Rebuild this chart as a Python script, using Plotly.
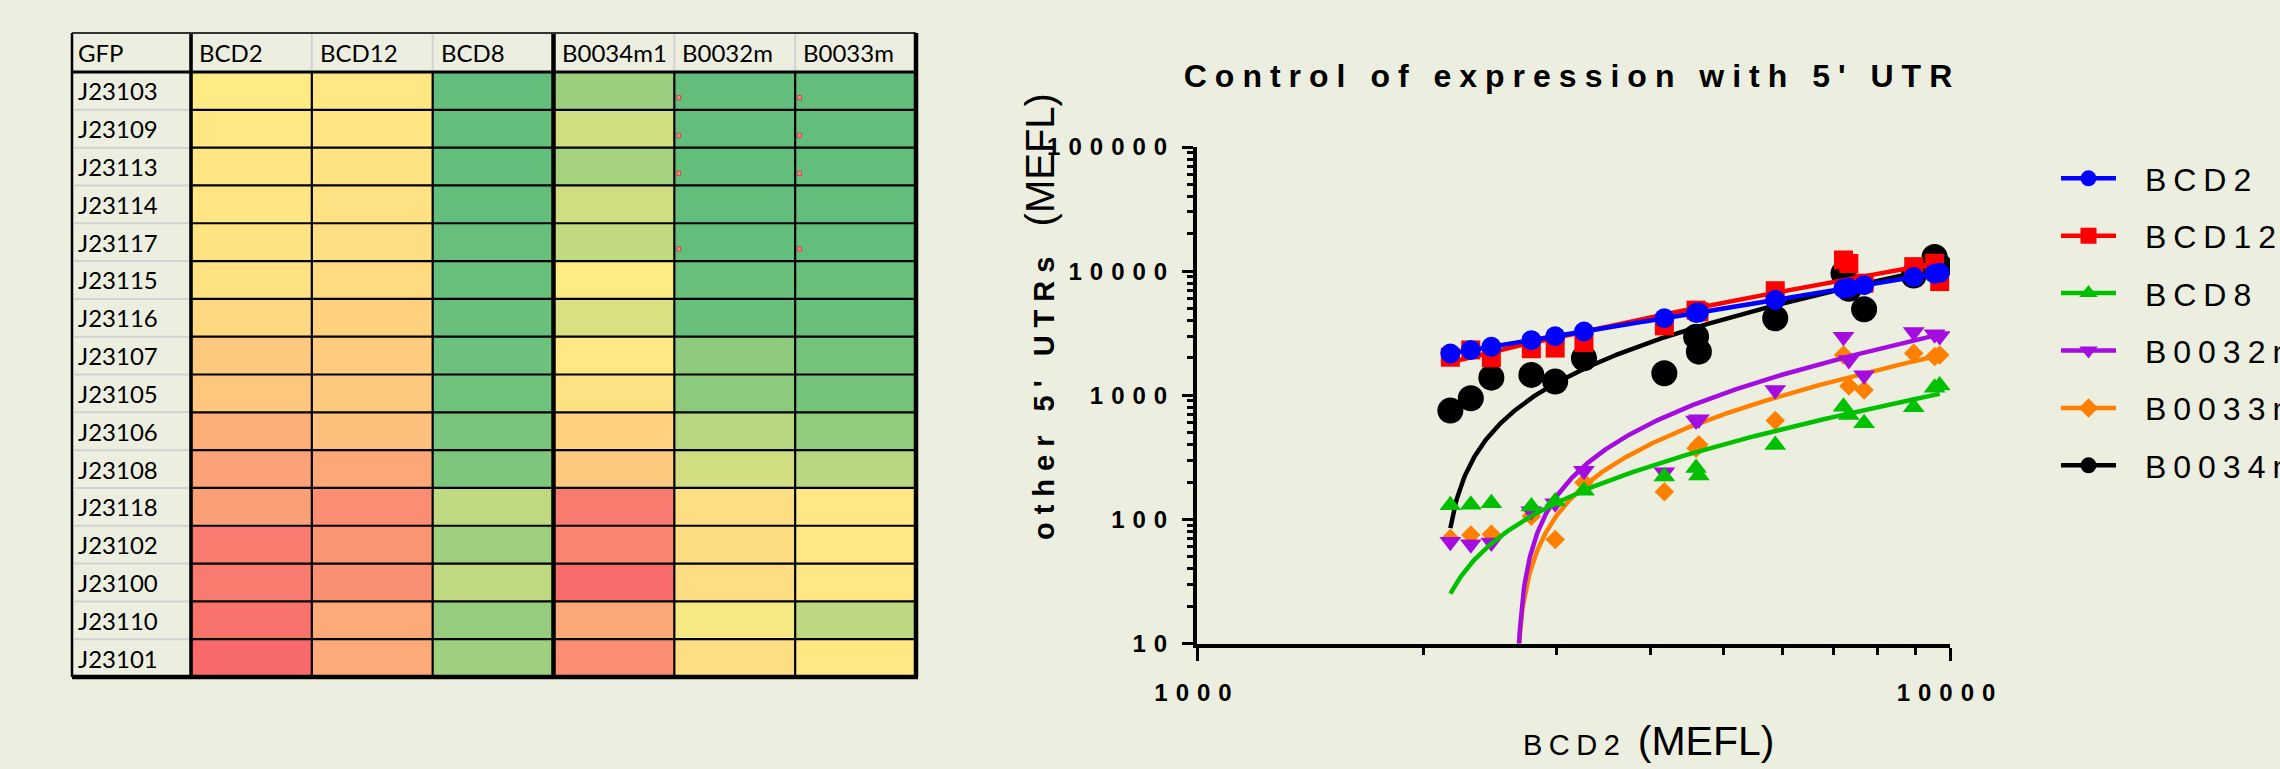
import numpy as np
import plotly.graph_objects as go

W, H = 2280, 769
BG = '#ECEFDF'

# ---------------- table (heat-map) data ----------------
corner_label = 'GFP'
promoters = ['J23103', 'J23109', 'J23113', 'J23114', 'J23117', 'J23115', 'J23116', 'J23107',
             'J23105', 'J23106', 'J23108', 'J23118', 'J23102', 'J23100', 'J23110', 'J23101']
utr_columns = ['BCD2', 'BCD12', 'BCD8', 'B0034m1', 'B0032m', 'B0033m']
# position of each cell on the red(0) - yellow(0.5) - green(1) colour scale
scale_bcd2 = [0.50, 0.49, 0.48, 0.48, 0.47, 0.47, 0.43, 0.37, 0.36, 0.265, 0.22, 0.21, 0.07, 0.07, 0.04, 0.0]
scale_bcd12 = [0.49, 0.48, 0.47, 0.46, 0.45, 0.44, 0.40, 0.38, 0.37, 0.33, 0.24, 0.14, 0.17, 0.15, 0.25, 0.25]
scale_bcd8 = [1.0, 1.0, 1.0, 1.0, 0.99, 0.99, 0.98, 0.97, 0.96, 0.93, 0.91, 0.705, 0.81, 0.705, 0.84, 0.81]
scale_b0034m1 = [0.82, 0.65, 0.785, 0.65, 0.70, 0.50, 0.625, 0.49, 0.46, 0.40, 0.37, 0.07, 0.11, 0.01, 0.245, 0.14]
scale_b0032m = [1.0, 1.0, 1.0, 1.0, 1.0, 0.98, 0.98, 0.86, 0.87, 0.73, 0.65, 0.45, 0.445, 0.45, 0.53, 0.45]
scale_b0033m = [1.0, 1.0, 1.0, 1.0, 1.0, 0.98, 0.98, 0.94, 0.94, 0.85, 0.73, 0.49, 0.49, 0.49, 0.71, 0.49]
flagged_rows = ['J23103', 'J23109', 'J23113', 'J23117']
flagged_cols = ['B0032m', 'B0033m']

# ---------------- scatter data (MEFL) ----------------
bcd2_mefl = [2170, 2310, 2460, 2780, 2990, 3265, 4175, 4600, 4640, 5860, 7220, 7340, 7690, 8950, 9540, 9690]
bcd12_mefl = [2024, 2317, 2000, 2370, 2400, 2660, 3620, 4850, 4700, 6950, 12300, 11500, 8000, 10870, 11590, 8240]
bcd8_mefl = [130, 131, 135, 127, 139, 170, 222, 259, 226, 398, 809, 694, 595, 800, 1150, 1200]
b0032m_mefl = [66, 63, 65, 116, 135, 247, 240, 625, 640, 1104, 2966, 1925, 1449, 3236, 3100, 3000]
b0033m_mefl = [70, 75, 76, 106, 69, 198, 167, 374, 400, 625, 2113, 1188, 1104, 2180, 2048, 2113]
b0034m_mefl = [752, 946, 1386, 1459, 1288, 1987, 1503, 2966, 2245, 4170, 9600, 7200, 4930, 9200, 13000, 10900]

x_tick_values = [1000, 10000]
y_tick_values = [10, 100, 1000, 10000, 100000]

title_text = "Control of expression with 5' UTR"
x_title_main, x_title_unit = 'BCD2', '(MEFL)'
y_title_main, y_title_unit = "other 5' UTRs", '(MEFL)'

# ---------------- helpers ----------------
def px(x):
    return x / W


def py(y):
    return 1 - y / H


def spaced(text, ls, size=None):
    st = f'letter-spacing:{ls}px'
    if size:
        st = f'font-size:{size}px;' + st
    return f'<span style="{st}">{text}</span>'


FONT = 'Liberation Sans'
TFONT = 'Lato'

fig = go.Figure()

# ---------------- heat-map table ----------------
cols = [scale_bcd2, scale_bcd12, scale_bcd8, scale_b0034m1, scale_b0032m, scale_b0033m]
z = [[c[i] for c in cols] for i in range(len(promoters))]
fig.add_trace(go.Heatmap(
    z=z, x=utr_columns, y=promoters,
    colorscale=[[0, '#F8696B'], [0.5, '#FFEB84'], [1, '#63BE7B']],
    zmin=0, zmax=1, showscale=False, hoverinfo='skip',
    xaxis='x2', yaxis='y2'))

# table geometry (pixels)
T_L, T_LAB, T_R = 72, 191, 916
T_T, T_HB, T_B = 33, 72, 677

shapes = []
for r in range(len(promoters) - 1):
    shapes.append(dict(type='line', xref='x2', yref='y2', x0=-0.5, x1=len(utr_columns) - 0.5,
                       y0=r + 0.5, y1=r + 0.5, line=dict(color='black', width=2.2)))
    shapes.append(dict(type='line', xref='paper', yref='y2', x0=px(T_L + 2), x1=px(T_LAB - 2),
                       y0=r + 0.5, y1=r + 0.5, line=dict(color='#D2D2D2', width=2)))
for c in range(1, len(utr_columns)):
    thick = (c == 3)
    shapes.append(dict(type='line', xref='x2', yref='paper', x0=c - 0.5, x1=c - 0.5,
                       y0=py(T_HB), y1=py(T_B),
                       line=dict(color='black', width=4.5 if thick else 2.2)))
    shapes.append(dict(type='line', xref='x2', yref='paper', x0=c - 0.5, x1=c - 0.5,
                       y0=py(T_T), y1=py(T_HB),
                       line=dict(color='black' if thick else '#D2D2D2', width=4.5 if thick else 2)))
shapes.append(dict(type='line', xref='paper', yref='paper', x0=px(T_LAB), x1=px(T_LAB),
                   y0=py(T_T), y1=py(T_B), line=dict(color='black', width=3.6)))
shapes.append(dict(type='line', xref='paper', yref='paper', x0=px(T_L), x1=px(T_R),
                   y0=py(T_HB), y1=py(T_HB), line=dict(color='black', width=3)))
shapes.append(dict(type='line', xref='paper', yref='paper', x0=px(T_L), x1=px(T_R),
                   y0=py(T_T), y1=py(T_T), line=dict(color='#333333', width=2)))
shapes.append(dict(type='line', xref='paper', yref='paper', x0=px(T_L), x1=px(T_R + 2),
                   y0=py(T_B), y1=py(T_B), line=dict(color='black', width=4.5)))
shapes.append(dict(type='line', xref='paper', yref='paper', x0=px(T_L), x1=px(T_L),
                   y0=py(T_T), y1=py(T_B), line=dict(color='black', width=2.5)))
shapes.append(dict(type='line', xref='paper', yref='paper', x0=px(T_R), x1=px(T_R),
                   y0=py(T_T), y1=py(T_B), line=dict(color='black', width=4.5)))
for cname in flagged_cols:
    ci = utr_columns.index(cname)
    for rname in flagged_rows:
        ri = promoters.index(rname)
        shapes.append(dict(type='rect', xref='x2', yref='y2',
                           x0=ci - 0.5 + 0.022, x1=ci - 0.5 + 0.052,
                           y0=ri + 0.12, y1=ri + 0.24,
                           fillcolor='#F28A8A', line=dict(color='#D04848', width=1)))

annotations = []
annotations.append(dict(text=corner_label, xref='paper', yref='paper', x=px(T_L + 4),
                        y=py((T_T + T_HB) / 2), xanchor='left', yanchor='middle', showarrow=False,
                        font=dict(family=TFONT, size=24, color='black')))
for ci, cname in enumerate(utr_columns):
    annotations.append(dict(text=cname, xref='x2', yref='paper', x=ci - 0.5, xshift=6,
                            y=py((T_T + T_HB) / 2), xanchor='left', yanchor='middle', showarrow=False,
                            font=dict(family=TFONT, size=24, color='black')))
for rname in promoters:
    annotations.append(dict(text=rname, xref='paper', yref='y2', x=px(T_L + 4), y=rname,
                            xanchor='left', yanchor='middle', showarrow=False,
                            font=dict(family=TFONT, size=24, color='black')))

# ---------------- scatter with linear fits ----------------
series = [  # drawn bottom -> top
    dict(name='B0034m', y=b0034m_mefl, color='#000000', symbol='circle', size=26, rank=6),
    dict(name='B0033m', y=b0033m_mefl, color='#FF8000', symbol='diamond', size=15, rank=5),
    dict(name='B0032m', y=b0032m_mefl, color='#A40CE0', symbol='triangle-down', size=19, rank=4),
    dict(name='BCD8', y=bcd8_mefl, color='#00C000', symbol='triangle-up', size=19, rank=3),
    dict(name='BCD12', y=bcd12_mefl, color='#FF0000', symbol='square', size=19, rank=2),
    dict(name='BCD2', y=bcd2_mefl, color='#0000FF', symbol='circle', size=20, rank=1),
]

xs = np.array(bcd2_mefl, dtype=float)
xfit = np.geomspace(xs.min(), xs.max(), 600)
legend_pad = '<span style="letter-spacing:15px"> </span>'
for s in series:
    ys = np.array(s['y'], dtype=float)
    slope, intercept = np.polyfit(xs, ys, 1)
    yfit = slope * xfit + intercept
    yfit = [v if v > 0 else None for v in yfit]
    fig.add_trace(go.Scatter(x=xfit, y=yfit, mode='lines', showlegend=False, hoverinfo='skip',
                             line=dict(color=s['color'], width=4.5)))
    fig.add_trace(go.Scatter(x=xs, y=ys, mode='markers', showlegend=False, name=s['name'],
                             marker=dict(color=s['color'], symbol=s['symbol'], size=s['size'],
                                         line=dict(width=0))))
    fig.add_trace(go.Scatter(x=[None], y=[None], mode='lines+markers',
                             name=legend_pad + spaced(s['name'], 7), legendrank=s['rank'],
                             legendgroup=s['name'],
                             line=dict(color=s['color'], width=4.5),
                             marker=dict(color=s['color'], symbol=s['symbol'], size=s['size'],
                                         line=dict(width=0))))

minor_x = [k * 10 ** e for e in range(3, 4) for k in range(2, 10)]
minor_y = [k * 10 ** e for e in range(1, 5) for k in range(2, 10)]

axis_common = dict(type='log', showline=True, linewidth=4, linecolor='black', showgrid=False,
                   zeroline=False, ticks='outside', tickwidth=3, tickcolor='black',
                   tickfont=dict(family=FONT, size=24, color='black', weight='bold'),
                   tickmode='array')

fig.update_layout(
    width=W, height=H,
    margin=dict(l=0, r=0, t=0, b=0, autoexpand=False),
    paper_bgcolor=BG, plot_bgcolor=BG,
    showlegend=True,
    xaxis=dict(axis_common, domain=[px(1197), px(1950)], range=[3, 4], anchor='y',
               tickvals=x_tick_values, ticktext=[spaced(v, 8) for v in x_tick_values],
               ticklen=13, ticklabelstandoff=12,
               minor=dict(tickmode='array', tickvals=minor_x, ticks='outside', ticklen=7,
                          tickwidth=3, tickcolor='black', showgrid=False)),
    yaxis=dict(axis_common, domain=[py(643.5), py(147)], range=[1, 5], anchor='x',
               tickvals=y_tick_values, ticktext=[spaced(v, 8) for v in y_tick_values],
               ticklen=11, ticklabelstandoff=2,
               minor=dict(tickmode='array', tickvals=minor_y, ticks='outside', ticklen=6,
                          tickwidth=3, tickcolor='black', showgrid=False)),
    xaxis2=dict(domain=[px(T_LAB), px(T_R)], range=[-0.5, len(utr_columns) - 0.5], visible=False,
                anchor='y2', fixedrange=True),
    yaxis2=dict(domain=[py(T_B), py(T_HB)], autorange='reversed', visible=False,
                anchor='x2', fixedrange=True),
    title=dict(text=spaced(title_text, 8), x=px(1572), y=py(76), xref='paper', yref='paper',
               xanchor='center', yanchor='middle',
               font=dict(family=FONT, size=32, color='black', weight='bold')),
    legend=dict(x=px(2056), y=py(151), xanchor='left', yanchor='top',
                font=dict(family=FONT, size=32, color='black'),
                bgcolor='rgba(0,0,0,0)', borderwidth=0, itemwidth=55,
                traceorder='grouped', tracegroupgap=12.8, itemsizing='trace'),
    shapes=shapes,
    annotations=annotations + [
        dict(text='<b>' + spaced(y_title_main, 8, 29) + '</b>  ' + y_title_unit,
             xref='paper', yref='paper', x=px(1040), y=py(317), textangle=-90,
             xanchor='center', yanchor='middle', showarrow=False,
             font=dict(family=FONT, size=40, color='black')),
        dict(text=spaced(x_title_main, 6.5, 29) + ' ' + x_title_unit,
             xref='paper', yref='paper', x=px(1648), y=py(741),
             xanchor='center', yanchor='middle', showarrow=False,
             font=dict(family=FONT, size=41, color='black')),
    ],
)

fig.write_html('out.html', config={'displayModeBar': False},
               post_script="document.body.style.margin='0';")
